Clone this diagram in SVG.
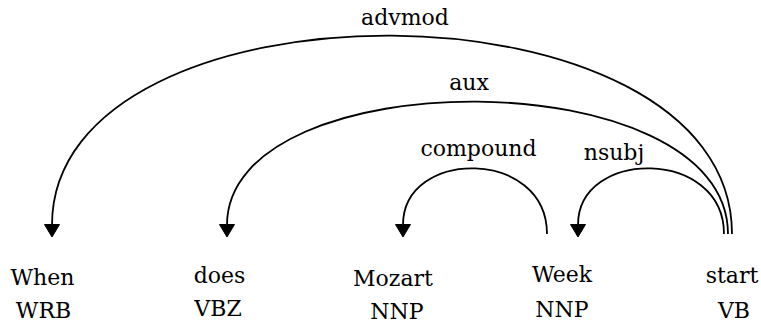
<svg xmlns="http://www.w3.org/2000/svg" width="761" height="324" viewBox="0 0 761 324">
  <style>
    text { font-family: "DejaVu Serif", "Liberation Serif", serif; font-size: 22px; fill: #000; text-anchor: middle; }
    .arc { fill: none; stroke: #000; stroke-width: 1.8; }
    .head { fill: #000; stroke: #000; stroke-width: 1; }
  </style>
  <rect width="761" height="324" fill="#fff"/>

  <!-- tokens: word and part-of-speech tag -->
  <g id="tok-when">
    <text x="42.5" y="285">When</text>
    <text x="43.5" y="318">WRB</text>
  </g>
  <g id="tok-does">
    <text x="219.5" y="283">does</text>
    <text x="218" y="316">VBZ</text>
  </g>
  <g id="tok-mozart">
    <text x="393" y="286">Mozart</text>
    <text x="397" y="319">NNP</text>
  </g>
  <g id="tok-week">
    <text x="562" y="282">Week</text>
    <text x="562" y="317">NNP</text>
  </g>
  <g id="tok-start">
    <text x="732" y="283">start</text>
    <text x="734" y="318">VB</text>
  </g>

  <!-- dependency arcs, head to dependent -->
  <g id="arcs">
    <path class="arc" d="M732,234 C732,-29 52,-29 52,225"/>
    <polygon class="head" points="44.5,224.5 59.5,224.5 52,237"/>
    <text x="405" y="24.5">advmod</text>

    <path class="arc" d="M728,234 C728,59 227,59 227,225"/>
    <polygon class="head" points="219.5,224.5 234.5,224.5 227,237"/>
    <text x="469" y="90">aux</text>

    <path class="arc" d="M547,234 C547,148 403,148 403,225"/>
    <polygon class="head" points="395.5,224.5 410.5,224.5 403,237"/>
    <text x="478.5" y="156">compound</text>

    <path class="arc" d="M724,234 C724,148 578,148 578,225"/>
    <polygon class="head" points="570.5,224.5 585.5,224.5 578,237"/>
    <text x="614" y="160">nsubj</text>
  </g>
</svg>
